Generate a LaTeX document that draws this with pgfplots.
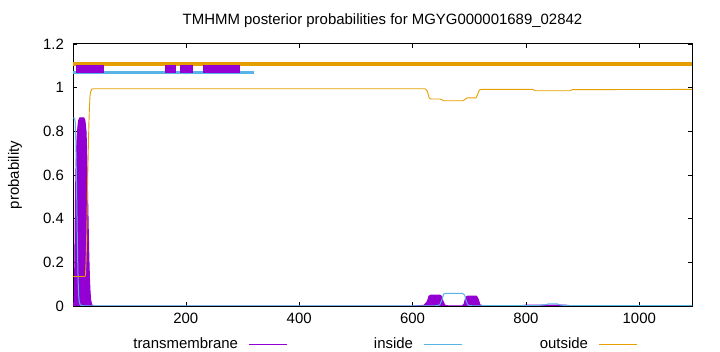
\documentclass[border=0pt]{standalone}
\usepackage{fontspec}
\setmainfont{Liberation Sans}
\usepackage{pgfplots}
\pgfplotsset{compat=1.18}
\definecolor{tmc}{HTML}{9400D3}
\definecolor{inc}{HTML}{56B4E9}
\definecolor{outc}{HTML}{E69F00}
\begin{document}
\fontsize{15}{18}\selectfont
\begin{tikzpicture}
\path[use as bounding box] (0,0) rectangle (720bp,352bp);
\begin{axis}[
  at={(73bp,46bp)}, anchor=south west,
  scale only axis, width=619bp, height=262bp,
  xmin=1, xmax=1093, ymin=0, ymax=1.2,
  xtick={200,400,600,800,1000},
  ytick={0,0.2,0.4,0.6,0.8,1,1.2},
  /pgf/number format/assume math mode=true,
  /pgf/number format/1000 sep={},
  tick align=inside, major tick length=4bp,
  tick style={black, line width=0.6bp},
  axis line style={line width=1bp, black},
  xticklabel style={yshift=-2bp},
  yticklabel style={xshift=-4bp},
  title={TMHMM posterior probabilities for MGYG000001689\_02842},
  title style={at={(0.5,1)}, anchor=center, yshift=17bp},
  ylabel={probability},
  ylabel style={at={(axis description cs:-0.0937,0.5)}, anchor=center},
  unbounded coords=jump,
  legend columns=3,
  legend plot pos=right,
  legend image code/.code={\draw[#1] (0bp,0bp) -- (38bp,0bp);},
  legend style={draw=none, fill=none, at={(0.5,-0.147)}, anchor=center,
    nodes={inner sep=0bp},
    /tikz/every odd column/.append style={column sep=10bp},
    /tikz/every even column/.append style={column sep=16bp}},
]
% transmembrane
\addplot[forget plot, draw=tmc, fill=tmc, line width=1bp, line join=round] coordinates {
(1,0) (3,0.02) (4,0.15) (5,0.4) (6,0.6) (7,0.7) (8,0.76) (9,0.8) (10,0.83) (11,0.85)
(13,0.862) (20,0.862) (22,0.85) (24,0.8) (25,0.72) (26,0.6) (27,0.47) (28,0.34) (29,0.22)
(30,0.13) (31,0.07) (32,0.03) (34,0.005) (37,0) (600,0) (620,0.003) (626,0.02) (629,0.045)
(632,0.05) (648,0.05) (651,0.045) (654,0.02) (657,0.004) (662,0.001) (688,0.001) (691,0.01)
(694,0.04) (697,0.045) (713,0.045) (716,0.03) (719,0.005) (725,0.001) (790,0.001)
(800,0.004) (870,0.004) (880,0.001) (1093,0)
} \closedcycle;
% inside
\addplot[forget plot, draw=inc, line width=1bp] coordinates {
(1,0.86) (4,0.86) (5,0.84) (6,0.75) (7,0.6) (8,0.42) (9,0.25) (10,0.12) (11,0.05) (12,0.02)
(14,0.004) (20,0.001) (640,0.001) (648,0.005) (652,0.03) (655,0.055) (659,0.058) (688,0.058)
(692,0.05) (695,0.02) (698,0.004) (705,0.001) (820,0.002) (835,0.006) (840,0.01) (855,0.01)
(860,0.005) (870,0.002) (1093,0.002)
};
% outside
\addplot[forget plot, draw=outc, line width=0.9bp] coordinates {
(1,0.135) (22,0.135) (23,0.14) (24,0.2) (25,0.3) (26,0.45) (27,0.6) (28,0.72) (29,0.83)
(30,0.91) (31,0.96) (32,0.98) (34,0.993) (37,0.995) (622,0.995) (626,0.985) (629,0.955)
(632,0.948) (648,0.948) (652,0.945) (655,0.94) (688,0.94) (692,0.945) (696,0.953)
(712,0.953) (715,0.97) (718,0.99) (722,0.992) (812,0.992) (816,0.986) (878,0.986)
(882,0.991) (1093,0.992)
};
% topology bars
\addplot[forget plot, draw=outc, line width=4bp] coordinates {(1,1.109) (1093,1.109)};
\addplot[forget plot, draw=inc, line width=2.7bp] coordinates {(1,1.069) (320,1.069)};
\addplot[forget plot, draw=tmc, line width=8bp] coordinates {
(6,1.087) (56,1.087) (100,nan) (164,1.087) (183,1.087) (185,nan) (190,1.087) (213,1.087)
(220,nan) (230,1.087) (295,1.087)
};
\addlegendimage{draw=tmc, line width=1bp}
\addlegendentry{\makebox[110bp][r]{transmembrane}}
\addlegendimage{draw=inc, line width=1bp}
\addlegendentry{\makebox[110bp][r]{inside}}
\addlegendimage{draw=outc, line width=1bp}
\addlegendentry{\makebox[110bp][r]{outside}}
\end{axis}
\end{tikzpicture}
\end{document}
